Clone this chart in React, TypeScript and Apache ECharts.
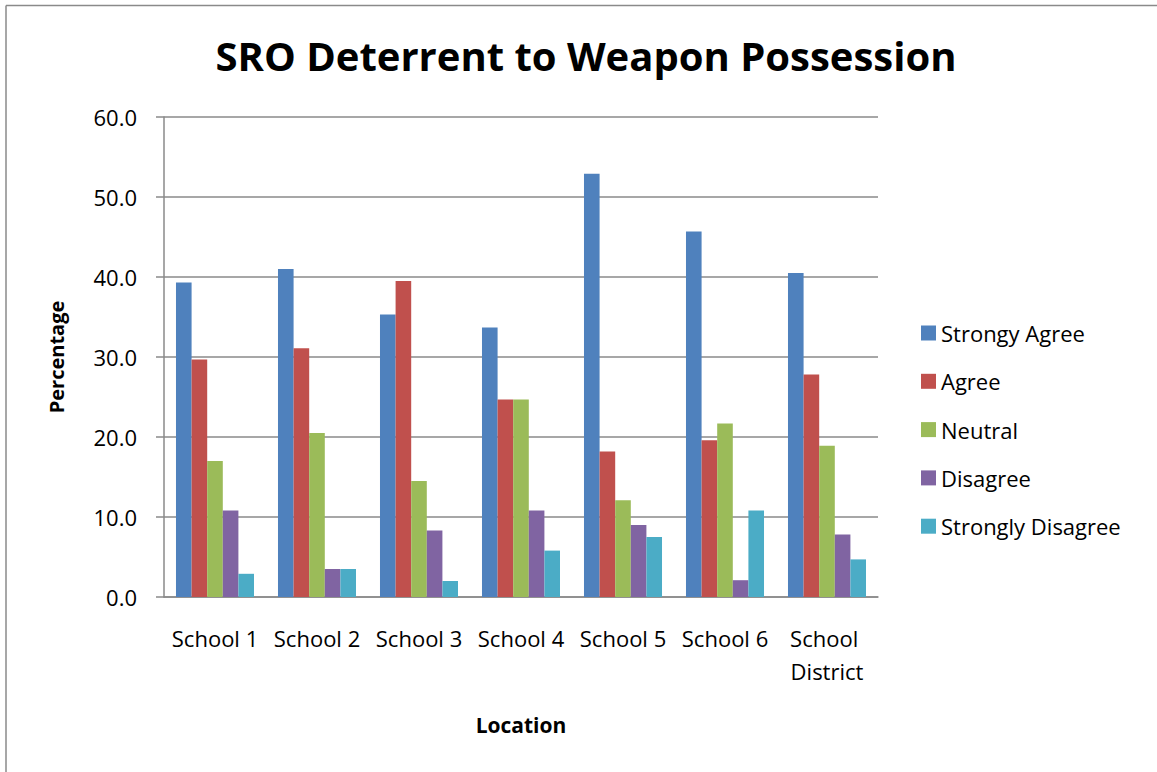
import React, { useEffect, useRef } from "react";
import * as echarts from "echarts";

// Survey responses by location (percent of respondents)
const categories = ["School 1", "School 2", "School 3", "School 4", "School 5", "School 6", "School District"];
const seriesNames = ["Strongy Agree", "Agree", "Neutral", "Disagree", "Strongly Disagree"];
const stronglyAgree = [39.3, 41.0, 35.3, 33.7, 52.9, 45.7, 40.5];
const agree = [29.7, 31.1, 39.5, 24.7, 18.2, 19.6, 27.8];
const neutral = [17.0, 20.5, 14.5, 24.7, 12.1, 21.7, 18.9];
const disagree = [10.8, 3.5, 8.3, 10.8, 9.0, 2.1, 7.8];
const stronglyDisagree = [2.9, 3.5, 2.0, 5.8, 7.5, 10.8, 4.7];
const colors = ["#4F81BD", "#C0504D", "#9BBB59", "#8064A2", "#4BACC6"];

const FONT = "'Open Sans', 'Noto Sans', sans-serif";
const GRID_GRAY = "#8a8a8a";

export default function App() {
  const ref = useRef<HTMLDivElement>(null);

  useEffect(() => {
    if (!ref.current) return;
    const chart = echarts.init(ref.current, undefined, { renderer: "svg" });
    const values = [stronglyAgree, agree, neutral, disagree, stronglyDisagree];

    chart.setOption({
      animation: false,
      backgroundColor: "#ffffff",
      color: colors,
      title: {
        text: "SRO Deterrent to Weapon Possession",
        left: 581,
        top: 30,
        textAlign: "center",
        textStyle: { fontFamily: FONT, fontSize: 40, fontWeight: "bold", color: "#000" },
      },
      legend: {
        orient: "vertical",
        left: 916,
        top: 317,
        itemWidth: 15,
        itemHeight: 15,
        itemGap: 26.3,
        icon: "rect",
        data: seriesNames,
        textStyle: { fontFamily: FONT, fontSize: 22, color: "#000", lineHeight: 22 },
      },
      grid: { left: 164, right: 279, top: 117, bottom: 175, containLabel: false },
      xAxis: {
        type: "category",
        data: categories,
        name: "Location",
        nameLocation: "middle",
        nameGap: 117,
        nameTextStyle: { fontFamily: FONT, fontSize: 21, fontWeight: "bold", color: "#000" },
        axisLine: { show: true, lineStyle: { color: GRID_GRAY, width: 1.5 } },
        axisTick: { show: false },
        axisLabel: {
          interval: 0,
          margin: 24,
          fontFamily: FONT,
          fontSize: 22,
          lineHeight: 33,
          color: "#000",
          width: 100,
          overflow: "break",
        },
      },
      yAxis: {
        type: "value",
        min: 0,
        max: 60,
        interval: 10,
        name: "Percentage",
        nameLocation: "middle",
        nameGap: 98,
        nameRotate: 90,
        nameTextStyle: { fontFamily: FONT, fontSize: 20, fontWeight: "bold", color: "#000" },
        axisLine: { show: true, lineStyle: { color: GRID_GRAY, width: 1.5 } },
        axisTick: { show: true, inside: false, length: 8, lineStyle: { color: GRID_GRAY, width: 1.5 } },
        axisLabel: {
          margin: 27,
          fontFamily: FONT,
          fontSize: 22,
          color: "#000",
          formatter: (v: number) => v.toFixed(1),
        },
        splitLine: { show: true, lineStyle: { color: GRID_GRAY, width: 1.5 } },
      },
      series: seriesNames.map((name, i) => ({
        name,
        type: "bar",
        data: values[i],
        barGap: "0%",
        barCategoryGap: "23.5%",
        itemStyle: { color: colors[i] },
      })),
      graphic: [
        {
          type: "line",
          shape: { x1: 6, y1: 5.5, x2: 1157, y2: 5.5 },
          style: { stroke: "#8a8a8a", lineWidth: 1.5 },
        },
        {
          type: "line",
          shape: { x1: 6, y1: 5.5, x2: 6, y2: 772 },
          style: { stroke: "#8a8a8a", lineWidth: 1.5 },
        },
      ],
    });

    return () => chart.dispose();
  }, []);

  return (
    <div
      ref={ref}
      style={{ position: "absolute", left: 0, top: 0, width: 1157, height: 772, background: "#fff" }}
    />
  );
}
